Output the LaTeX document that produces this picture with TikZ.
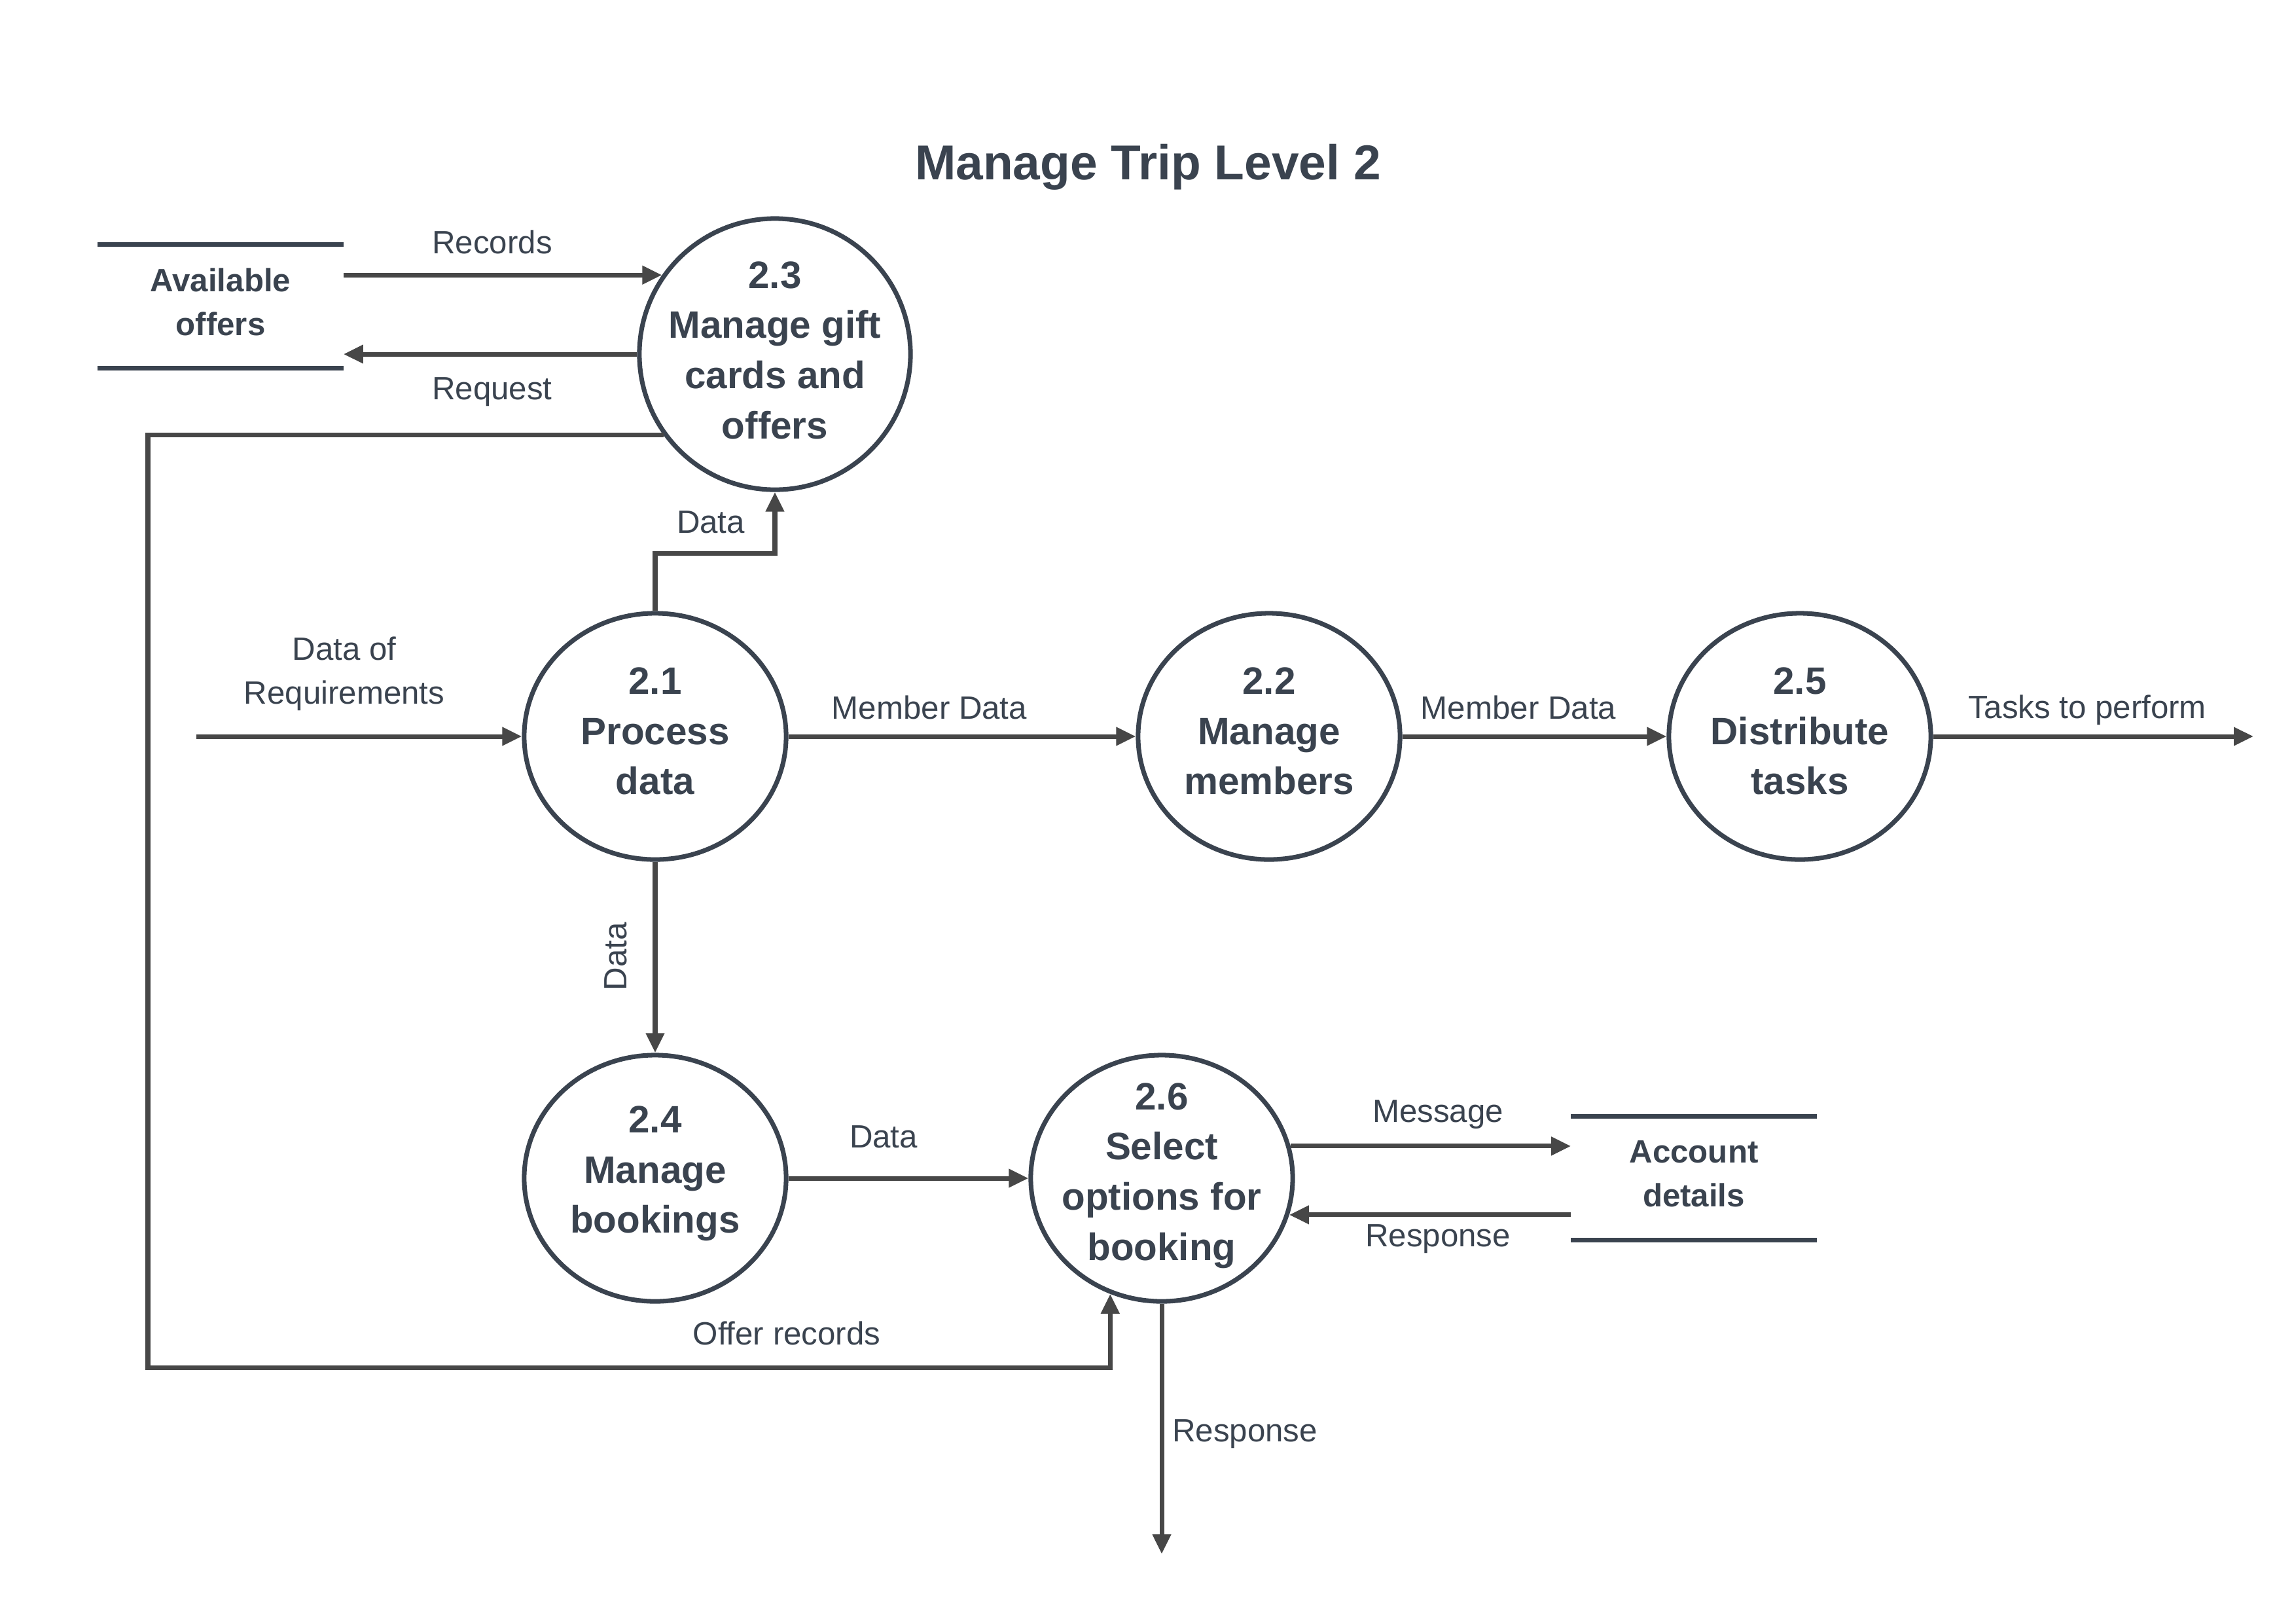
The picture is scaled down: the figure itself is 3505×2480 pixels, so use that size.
\documentclass[tikz,border=0pt]{standalone}
\usepackage{fontspec}
\setmainfont{Liberation Sans}
\usetikzlibrary{arrows.meta, positioning, shapes.geometric}
\definecolor{ink}{RGB}{58,67,79}
\definecolor{wire}{RGB}{71,71,71}

\begin{document}
\begin{tikzpicture}[x=0.01cm, y=-0.01cm]

\tikzset{proc/.style = {shape=ellipse, draw=ink, line width=2pt, minimum width=4cm, minimum height=3.76cm, inner sep=0pt}}
\tikzset{ptext/.style = {text=ink, align=center, inner sep=0pt, font=\bfseries\fontsize{16.6pt}{21.8pt}\selectfont}}
\tikzset{store/.style = {minimum width=3.74cm, minimum height=1.87cm, inner sep=0pt}}
\tikzset{stext/.style = {text=ink, align=center, inner sep=0pt, font=\bfseries\fontsize{14pt}{19pt}\selectfont}}
\tikzset{storeline/.style = {draw=ink, line width=2pt}}
\tikzset{lbl/.style = {text=ink, align=center, inner sep=0pt, font=\fontsize{14pt}{19pt}\selectfont}}
\tikzset{flow/.style = {draw=wire, line width=2pt, -{Triangle[length=0.3cm, width=0.27cm]}}}

\path[use as bounding box, fill=white] (0,0) rectangle (3505,2480);

\node[text=ink, font=\bfseries\fontsize{21.3pt}{25pt}\selectfont] (title) at (1754,255) {Manage Trip Level 2};

% processes
\node[proc, shape=circle, minimum size=4.14cm] (p23) at (1184,541) {};
\node[ptext] (p23t) at (1184,535) {2.3\\Manage gift\\cards and\\offers};
\node[proc] (p21) at (1001,1125) {};
\node[ptext] (p21t) at (1001,1117) {2.1\\Process\\data};
\node[proc] (p22) at (1939,1125) {};
\node[ptext] (p22t) at (1939,1117) {2.2\\Manage\\members};
\node[proc] (p25) at (2750,1125) {};
\node[ptext] (p25t) at (2750,1117) {2.5\\Distribute\\tasks};
\node[proc] (p24) at (1001,1800) {};
\node[ptext] (p24t) at (1001,1793) {2.4\\Manage\\bookings};
\node[proc] (p26) at (1775,1800) {};
\node[ptext] (p26t) at (1775,1796) {2.6\\Select\\options for\\booking};

% stores
\node[store] (avail) at (337,468) {};
\node[stext] (availt) at (337,461) {Available\\offers};
\draw[storeline] (avail.north west) -- (avail.north east);
\draw[storeline] (avail.south west) -- (avail.south east);
\node[store] (acc) at (2588,1800) {};
\node[stext] (acct) at (2588,1793) {Account\\details};
\draw[storeline] (acc.north west) -- (acc.north east);
\draw[storeline] (acc.south west) -- (acc.south east);

% free ends
\coordinate (reqin) at (300,1125);
\coordinate (taskout) at (3443,1125);
\coordinate (respout) at (1775,2374);
\coordinate (bend) at (1184,845);
\coordinate (loopc) at (226,2089);

%flows
\draw[flow] (avail.east |- p23.145) -- (p23.145);
\draw[flow] (p23.west) -- (avail.east |- p23.west);
\draw[flow] (p21.north) |- (bend) -- (p23.south);
\draw[flow] (reqin) -- (p21.west);
\draw[flow] (p21.east) -- (p22.west);
\draw[flow] (p22.east) -- (p25.west);
\draw[flow] (p25.east) -- (taskout);
\draw[flow] (p21.south) -- (p24.north);
\draw[flow] (p24.east) -- (p26.west);
\draw[flow] (p26.14) -- (p26.14 -| acc.west);
\draw[flow] (acc.west |- p26.344) -- (p26.344);
\draw[flow] (p26.south) -- (respout);
\draw[flow] (p23.216) -| (loopc) -| (p26.246);

% labels
\node[lbl] (lrec) at (752,370) {Records};
\node[lbl] (lreq) at (752,599) {Request};
\node[lbl] (ldat1) at (1086,798) {Data};
\node[lbl] (ldreq) at (526,1029) {Data of\\Requirements};
\node[lbl] (lmem1) at (1420,1081) {Member Data};
\node[lbl] (lmem2) at (2320,1081) {Member Data};
\node[lbl] (ltask) at (3189,1085) {Tasks to perform};
\node[lbl, rotate=90] (ldat2) at (941,1461) {Data};
\node[lbl] (ldat3) at (1350,1737) {Data};
\node[lbl] (lmsg) at (2197,1703) {Message};
\node[lbl] (lres1) at (2197,1893) {Response};
\node[lbl] (loff) at (1202,2037) {Offer records};
\node[lbl] (lres2) at (1902,2191) {Response};
\end{tikzpicture}
\end{document}
